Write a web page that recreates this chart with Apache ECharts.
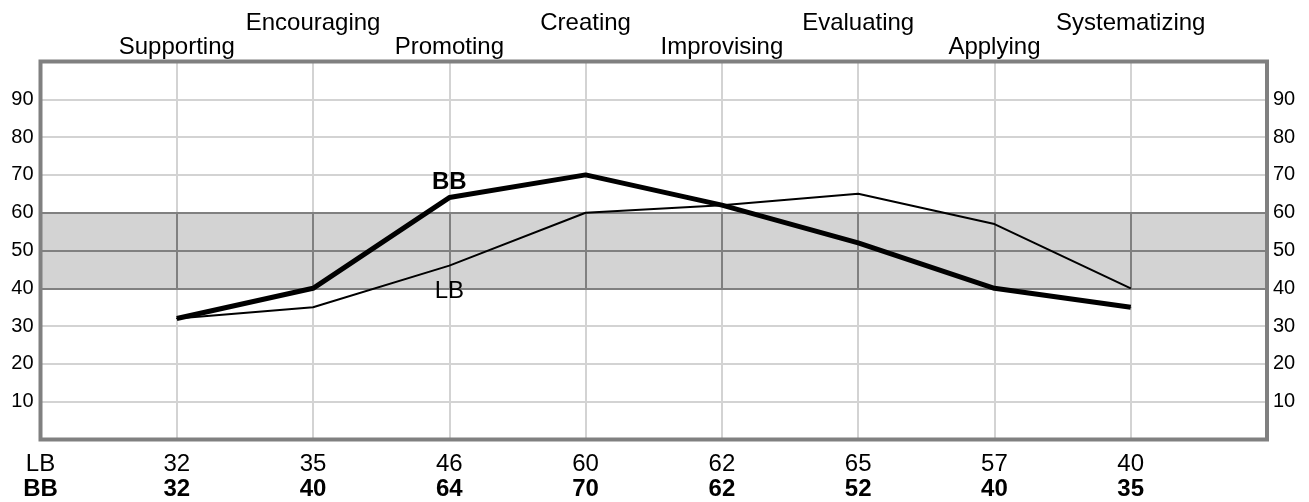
<!DOCTYPE html>
<html>
<head>
<meta charset="utf-8">
<script src="https://cdn.jsdelivr.net/npm/echarts@6/dist/echarts.min.js"></script>
<style>
html,body{margin:0;padding:0;background:#fff;}
#chart{width:1309px;height:502px;}
</style>
</head>
<body>
<div id="chart"></div>
<script>
const categories = ['Supporting','Encouraging','Promoting','Creating','Improvising','Evaluating','Applying','Systematizing'];
const lbValues = [32,35,46,60,62,65,57,40];
const bbValues = [32,40,64,70,62,52,40,35];
const rowNames = ['LB','BB'];
const yTickValues = [10,20,30,40,50,60,70,80,90];
const bandRange = [40,60];
const bandMid = 50;

const FONT = '"Liberation Sans", Arial, sans-serif';
const chart = echarts.init(document.getElementById('chart'));

const pos = categories.map((c,i)=>i+1);
const lbData = lbValues.map((v,i)=>{
  const item = {value:[pos[i],v]};
  if(i===2){ item.label={show:true,formatter:rowNames[0],position:'bottom',distance:13,fontSize:24,color:'#000',
    textBorderWidth:0, opacity:1, fontFamily:FONT}; }
  return item;
});
const bbData = bbValues.map((v,i)=>{
  const item = {value:[pos[i],v]};
  if(i===2){ item.label={show:true,formatter:rowNames[1],position:'top',distance:3,fontSize:24,fontWeight:'bold',color:'#000',
    textBorderWidth:0, fontFamily:FONT}; }
  return item;
});

const bandLines = [
  {yAxis:bandRange[0]},{yAxis:bandMid},{yAxis:bandRange[1]}
];
pos.forEach(p=>{ bandLines.push([{coord:[p,bandRange[0]]},{coord:[p,bandRange[1]]}]); });

function baseX(extra){
  return Object.assign({
    type:'value', min:0, max:pos.length+1, interval:1,
    axisLine:{show:false}, axisTick:{show:false}, splitLine:{show:false}
  }, extra);
}
const yFmt = v => yTickValues.indexOf(v)>=0 ? String(v) : '';
const XMAX = pos.length+1;

const option = {
  animation:false,
  backgroundColor:'#fff',
  grid:{left:40.5, right:42, top:61.5, bottom:62.5, show:false},
  xAxis:[
    baseX({position:'bottom',
      splitLine:{show:true, showMinLine:false, showMaxLine:false, lineStyle:{color:'#d3d3d3', width:2}},
      axisLabel:{margin:13, fontSize:24, color:'#000', fontFamily:FONT,
        formatter:v=> v===0 ? rowNames[0] : (v>=1&&v<=lbValues.length ? String(lbValues[v-1]) : '')}}),
    baseX({position:'bottom', offset:25,
      axisLabel:{margin:13, fontSize:24, fontWeight:'bold', color:'#000', fontFamily:FONT,
        formatter:v=> v===0 ? rowNames[1] : (v>=1&&v<=bbValues.length ? String(bbValues[v-1]) : '')}}),
    baseX({position:'top',
      axisLabel:{margin:2, fontSize:24, color:'#000', fontFamily:FONT,
        formatter:v=> (v>=1&&v<=categories.length&&(v-1)%2===0) ? categories[v-1] : ''}}),
    baseX({position:'top', offset:24,
      axisLabel:{margin:2, fontSize:24, color:'#000', fontFamily:FONT,
        formatter:v=> (v>=1&&v<=categories.length&&(v-1)%2===1) ? categories[v-1] : ''}})
  ],
  yAxis:[
    {type:'value', min:0, max:100, interval:10, position:'left',
      axisLine:{show:false}, axisTick:{show:false},
      splitLine:{show:true, showMinLine:false, showMaxLine:false, lineStyle:{color:'#d3d3d3', width:2}},
      axisLabel:{margin:7, fontSize:20, color:'#000', fontFamily:FONT, formatter:yFmt}},
    {type:'value', min:0, max:100, interval:10, position:'right',
      axisLine:{show:false}, axisTick:{show:false}, splitLine:{show:false},
      axisLabel:{margin:6, fontSize:20, color:'#000', fontFamily:FONT, formatter:yFmt}}
  ],
  series:[
    {type:'line', name:'band', data:[], z:1, silent:true,
      markArea:{silent:true, itemStyle:{color:'#d3d3d3'}, data:[[{yAxis:bandRange[0]},{yAxis:bandRange[1]}]]},
      markLine:{silent:true, symbol:['none','none'], label:{show:false},
        lineStyle:{color:'#808080', width:2, type:'solid'}, data:bandLines}},
    {type:'line', name:'LB', data:lbData, z:10, symbol:'circle', symbolSize:1, silent:true,
      itemStyle:{color:'#000'}, lineStyle:{color:'#000', width:2}},
    {type:'line', name:'BB', data:bbData, z:11, symbol:'circle', symbolSize:1, silent:true,
      itemStyle:{color:'#000'}, lineStyle:{color:'#000', width:5}}
  ]
};
chart.setOption(option);

// plot frame drawn on top, positioned through the axes' own scales
const p0 = chart.convertToPixel({xAxisIndex:0, yAxisIndex:0}, [0,100]);
const p1 = chart.convertToPixel({xAxisIndex:0, yAxisIndex:0}, [XMAX,0]);
chart.setOption({graphic:[{type:'rect', z:100, silent:true,
  shape:{x:p0[0], y:p0[1], width:p1[0]-p0[0], height:p1[1]-p0[1]},
  style:{fill:null, stroke:'#808080', lineWidth:4}}]});
</script>
</body>
</html>
